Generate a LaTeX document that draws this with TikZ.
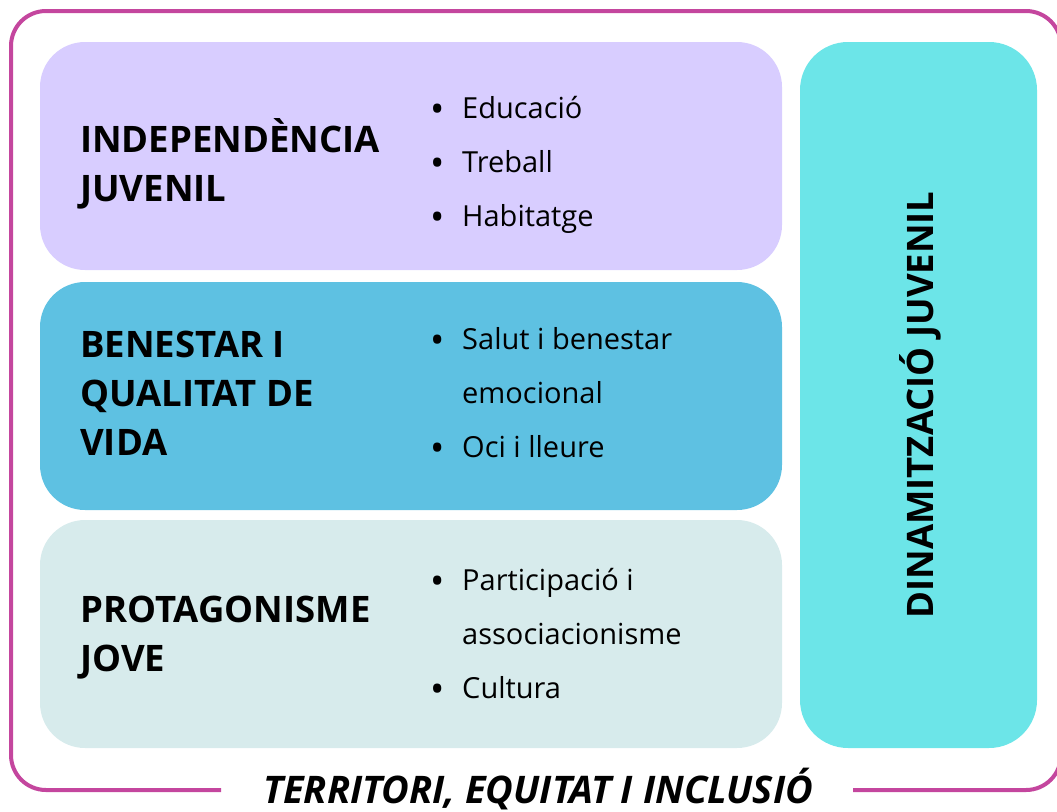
\documentclass[tikz,border=0pt]{standalone}
\usepackage{fontspec}
\setmainfont{Open Sans}
\usetikzlibrary{positioning}

\definecolor{framepink}{RGB}{196,70,158}
\definecolor{lilac}{RGB}{216,205,255}
\definecolor{skyblue}{RGB}{94,193,226}
\definecolor{palecyan}{RGB}{215,235,236}
\definecolor{brightcyan}{RGB}{108,229,232}
\newcommand\dotitem{\raisebox{-4pt}{\fontsize{38}{38}\selectfont\textbullet}}

\begin{document}
\begin{tikzpicture}[x=1pt,y=-1pt,inner sep=0pt,
                    area/.style={draw=none,rounded corners=45pt,minimum width=742pt,minimum height=228pt},
                    title/.style={anchor=base west,font=\fontsize{36.5}{49}\selectfont\bfseries},
                    items/.style={anchor=base west,font=\fontsize{29}{54}\selectfont}]
	\useasboundingbox (0,0) rectangle (1057,811);

	% the three rows and the side column
	\node[area,fill=lilac]     (indep)  at (411,156) {};
	\node[area,fill=skyblue]   (benes)  at (411,396) {};
	\node[area,fill=palecyan]  (prota)  at (411,634) {};
	\node[area,fill=brightcyan,rounded corners=48pt,minimum width=237pt,minimum height=706pt]
	                           (dinam)  at (918.5,395) {};

	% titles
	\node[title] (indepT) at (80,152) {\begin{tabular}[t]{@{}l@{}}INDEPENDÈNCIA\\JUVENIL\end{tabular}};
	\node[title] (benesT) at (80,357) {\begin{tabular}[t]{@{}l@{}}BENESTAR I\\QUALITAT DE\\VIDA\end{tabular}};
	\node[title] (protaT) at (80,622) {\begin{tabular}[t]{@{}l@{}}PROTAGONISME\\JOVE\end{tabular}};

	% bullet lists
	\node[items] (indepL) at (430,118)
		{\begin{tabular}[t]{@{}p{32pt}@{}l@{}}\dotitem & Educació\\ \dotitem & Treball\\ \dotitem & Habitatge\end{tabular}};
	\node[items] (benesL) at (430,349)
		{\begin{tabular}[t]{@{}p{32pt}@{}l@{}}\dotitem & Salut i benestar\\ & emocional\\ \dotitem & Oci i lleure\end{tabular}};
	\node[items] (protaL) at (430,590)
		{\begin{tabular}[t]{@{}p{32pt}@{}l@{}}\dotitem & Participació i\\ & associacionisme\\ \dotitem & Cultura\end{tabular}};

	\node[title,anchor=base,rotate=90] (dinamT) at (933,405) {DINAMITZACIÓ JUVENIL};

	% outer frame, open at the bottom for the label
	\node[anchor=base,font=\fontsize{38}{44}\selectfont\bfseries\itshape] (terr) at (538,803)
		{TERRITORI, EQUITAT I INCLUSIÓ};
	\draw[framepink,line width=4pt,rounded corners=35pt]
		(221,790) -- (11,790) -- (11,11) -- (1061,11) -- (1061,790) -- (853,790);
\end{tikzpicture}
\end{document}
